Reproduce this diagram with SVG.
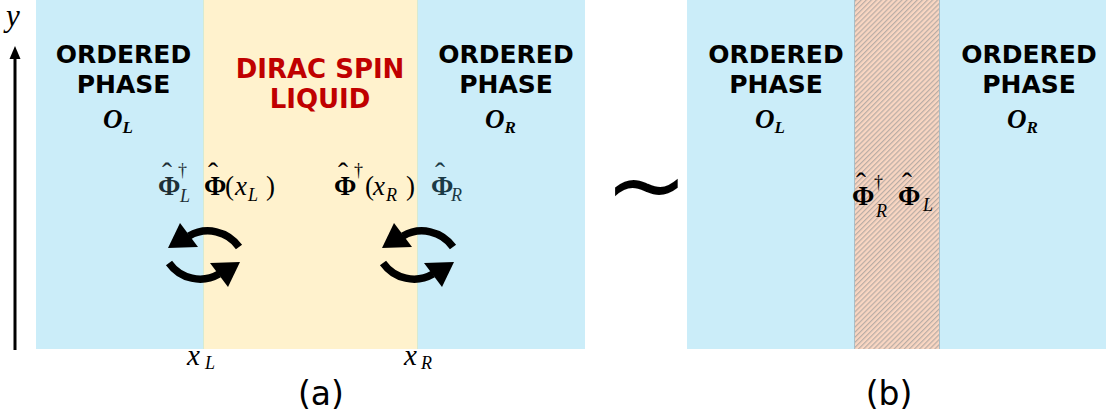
<svg xmlns="http://www.w3.org/2000/svg" width="1106" height="419" viewBox="0 0 1106 419">
<defs>
<style>
.blue{fill:#cbedf9}
.yel{fill:#fff2cd}
.hd{font-family:"DejaVu Sans",sans-serif;font-weight:bold;font-size:25px;text-anchor:middle}
.red{fill:#c00000;font-size:26px}
.op{font-family:"Liberation Serif",serif;font-weight:bold;font-style:italic;font-size:27px}
.sub{font-size:17px}
.m{font-family:"Liberation Serif",serif;font-size:27px}
.phi{font-weight:bold}
.it{font-style:italic}
.bx{font-style:italic;font-size:29px}
.s18{font-size:18px}
.hat{font-size:30px}
.ylab{font-family:"Liberation Serif",serif;font-size:31px;font-style:italic}
.cap{font-family:"DejaVu Sans",sans-serif;font-size:33px;text-anchor:middle}
.arc{fill:none;stroke:#000;stroke-width:7.5}
.ln{stroke:#000;stroke-width:5}
</style>
<pattern id="hatch" width="3.6" height="10" patternUnits="userSpaceOnUse" patternTransform="rotate(45)">
<rect width="3.6" height="10" fill="#f9d6c2"/>
<rect width="1.2" height="10" fill="#b9aca5"/>
</pattern>
<g id="circ">
<path class="arc" d="M35 -8 A38 38 0 0 0 -15 -19"/>
<polygon points="-36,-7 -24,-32 -6,-8"/>
</g>
</defs>
<rect width="1106" height="419" fill="#fff"/>

<g id="panel-a">
<rect class="blue" x="36" y="0" width="167" height="349"/>
<rect class="yel" x="203" y="0" width="214" height="349"/>
<rect class="blue" x="417" y="0" width="168" height="349"/>
<line x1="203.5" y1="0" x2="203.5" y2="349" stroke="#d6ead2" stroke-width="1"/>
<line x1="417.5" y1="0" x2="417.5" y2="349" stroke="#d6ead2" stroke-width="1"/>
</g>

<g id="node-ordered-left-a">
<text class="hd" x="123.5" y="63">ORDERED</text>
<text class="hd" x="123.5" y="93">PHASE</text>
<text class="op" x="103" y="128">O<tspan class="sub" dy="5">L</tspan></text>
</g>
<g id="node-dsl">
<text class="hd red" x="320" y="78">DIRAC SPIN</text>
<text class="hd red" x="320" y="108">LIQUID</text>
</g>
<g id="node-ordered-right-a">
<text class="hd" x="506" y="63">ORDERED</text>
<text class="hd" x="506" y="93">PHASE</text>
<text class="op" x="485" y="128">O<tspan class="sub" dy="5">R</tspan></text>
</g>

<g id="axis">
<line x1="15" y1="350" x2="15" y2="57" stroke="#000" stroke-width="3"/>
<polygon points="15,46 9.5,59 20.5,59"/>
<text class="ylab" x="6" y="26">y</text>
</g>

<g id="labels-a">
<text class="m" fill="#1e2f36"><tspan class="phi" x="158" y="195">Φ</tspan><tspan class="hat" x="162" y="183">ˆ</tspan><tspan class="s18" x="178" y="176">†</tspan><tspan class="s18 it" x="180" y="202">L</tspan></text>
<text class="m"><tspan class="phi" x="204" y="195">Φ</tspan><tspan class="hat" x="208" y="183">ˆ</tspan><tspan x="225" y="195">(</tspan><tspan class="it" x="235" y="195">x</tspan><tspan class="s18 it" x="248" y="201">L</tspan><tspan x="266" y="195">)</tspan></text>
<text class="m"><tspan class="phi" x="334" y="195">Φ</tspan><tspan class="hat" x="338" y="183">ˆ</tspan><tspan class="s18" x="354" y="176">†</tspan><tspan x="365" y="195">(</tspan><tspan class="it" x="373" y="195">x</tspan><tspan class="s18 it" x="386" y="201">R</tspan><tspan x="406" y="195">)</tspan></text>
<text class="m" fill="#1b3a46"><tspan class="phi" x="431" y="195">Φ</tspan><tspan class="hat" x="435" y="183">ˆ</tspan><tspan class="s18 it" x="451" y="201">R</tspan></text>

<text class="m"><tspan class="bx" x="187" y="365">x</tspan><tspan class="s18 it" x="205" y="369">L</tspan></text>
<text class="m"><tspan class="bx" x="404" y="365">x</tspan><tspan class="s18 it" x="421" y="369">R</tspan></text>
<text class="cap" x="321" y="405">(a)</text>
</g>

<g id="connectors">
<g transform="translate(204,255)"><use href="#circ"/><use href="#circ" transform="rotate(180)"/></g>
<g transform="translate(418,255)"><use href="#circ"/><use href="#circ" transform="rotate(180)"/></g>
<line class="ln" x1="793" y1="237" x2="982" y2="237"/>
<polygon points="997,237 980,228.5 980,245.5"/>
<line class="ln" x1="993" y1="266" x2="806" y2="266"/>
<polygon points="791,266 808,257.5 808,274.5"/>
</g>

<g id="tilde">
<text x="646.5" y="219" font-family="DejaVu Sans" font-size="100" text-anchor="middle">~</text>
</g>

<g id="panel-b">
<rect class="blue" x="687" y="0" width="419" height="349"/>
<rect x="854" y="0" width="86" height="349" fill="url(#hatch)"/>
<line x1="854.5" y1="0" x2="854.5" y2="349" stroke="#a9bfc8" stroke-width="1"/>
<line x1="939.5" y1="0" x2="939.5" y2="349" stroke="#a9bfc8" stroke-width="1"/>
</g>
<g id="node-ordered-left-b">
<text class="hd" x="776" y="63">ORDERED</text>
<text class="hd" x="776" y="93">PHASE</text>
<text class="op" x="755" y="128">O<tspan class="sub" dy="5">L</tspan></text>
</g>
<g id="node-ordered-right-b">
<text class="hd" x="1029" y="63">ORDERED</text>
<text class="hd" x="1029" y="93">PHASE</text>
<text class="op" x="1007" y="128">O<tspan class="sub" dy="5">R</tspan></text>
</g>
<g id="labels-b">
<text class="m"><tspan class="phi" x="852" y="205">Φ</tspan><tspan class="hat" x="856" y="193">ˆ</tspan><tspan class="s18" x="874" y="188">†</tspan><tspan class="s18 it" x="876" y="217">R</tspan></text>
<text class="m"><tspan class="phi" x="898" y="205">Φ</tspan><tspan class="hat" x="902" y="193">ˆ</tspan><tspan class="s18 it" x="923" y="211">L</tspan></text>
<text class="cap" x="889" y="405">(b)</text>
</g>
</svg>
